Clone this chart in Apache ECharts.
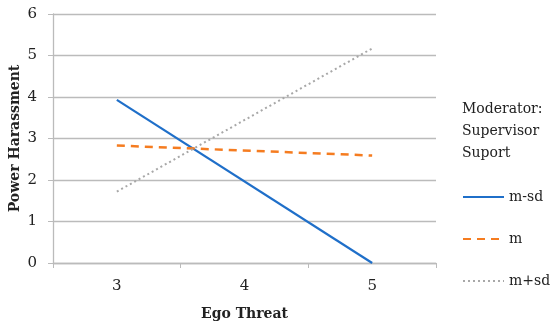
<!DOCTYPE html>
<html><head><meta charset="utf-8">
<script src="https://cdn.jsdelivr.net/npm/echarts@6/dist/echarts.min.js"></script>
<style>html,body{margin:0;padding:0;background:#fff}#c{width:550px;height:327px}</style>
</head><body><div id="c"></div>
<script>
const categories = ['3', '4', '5'];
const mMinusSd = [3.93, null, 0];
const mMean = [2.83, null, 2.59];
const mPlusSd = [1.72, null, 5.17];
const yTicks = [0, 1, 2, 3, 4, 5, 6];

const font = 'DejaVu Serif';
const chart = echarts.init(document.getElementById('c'));
const mk = (name, data, color, type, width) => ({
  name, type: 'line', data, connectNulls: true, symbol: 'none',
  lineStyle: { color, type, width }, itemStyle: { color },
  animation: false
});
chart.setOption({
  animation: false,
  grid: { left: 53, right: 114, top: 14, bottom: 64, containLabel: false, outerBoundsMode: 'none' },
  xAxis: {
    type: 'category', data: categories, boundaryGap: true,
    name: 'Ego Threat', nameLocation: 'middle', nameGap: 44, nameMoveOverlap: false,
    nameTextStyle: { fontFamily: font, fontWeight: 'bold', fontSize: 14, color: '#222' },
    axisLine: { lineStyle: { color: '#bbb', width: 1.3 } },
    axisTick: { show: true, length: 5, lineStyle: { color: '#bbb' } },
    axisLabel: { fontFamily: font, fontSize: 15, color: '#222', margin: 16 }
  },
  yAxis: {
    type: 'value', min: yTicks[0], max: yTicks[yTicks.length - 1], interval: 1,
    name: 'Power Harassment', nameLocation: 'middle', nameGap: 31, nameMoveOverlap: false,
    nameTextStyle: { fontFamily: font, fontWeight: 'bold', fontSize: 14, color: '#222' },
    axisLine: { show: true, lineStyle: { color: '#bbb', width: 1.3 } },
    axisTick: { show: true, length: 5, lineStyle: { color: '#bbb' } },
    splitLine: { lineStyle: { color: '#bbb', width: 1.3 } },
    axisLabel: { fontFamily: font, fontSize: 15, color: '#222', margin: 16 }
  },
  legend: {
    orient: 'vertical', left: 457, top: 185, itemWidth: 41, itemHeight: 10, itemGap: 28,
    textStyle: { fontFamily: font, fontSize: 14, color: '#222' },
    itemStyle: { opacity: 0 },
    data: ['m-sd', 'm', 'm+sd']
  },
  graphic: [{
    type: 'text', left: 462, top: 98,
    style: { text: 'Moderator:\nSupervisor\nSuport', font: '14px "DejaVu Serif"', fill: '#222', lineHeight: 22 }
  }],
  series: [
    mk('m-sd', mMinusSd, '#1f6fc9', 'solid', 2.2),
    mk('m', mMean, '#f57c20', [8, 6], 2.5),
    mk('m+sd', mPlusSd, '#a8a8a8', [2, 3], 2)
  ]
});
</script></body></html>
